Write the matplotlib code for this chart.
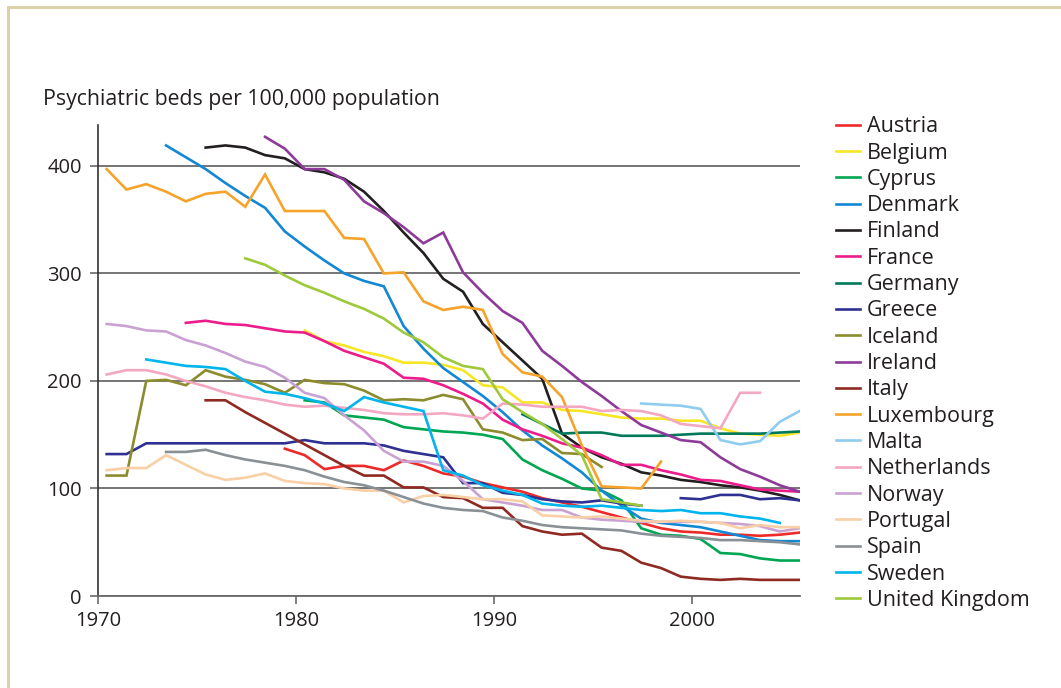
import numpy as np
import matplotlib
matplotlib.use("Agg")
import matplotlib.pyplot as plt
from matplotlib.patches import Rectangle

plt.rcParams['font.family'] = ['Open Sans', 'DejaVu Sans']

# Data: psychiatric beds per 100,000 population, 1970-2005 (nan = no data)
nan = np.nan
years = np.arange(1970, 2006)

austria = [nan]*9 + [137, 131, 118, 121, 121, 117, 126, 121, 114, 111, 105, 101, 97, 91, 87, 83, 78, 73, 68, 63, 60, 59, 57, 57, 56, 57, 59]
belgium = [nan]*10 + [247, 237, 233, 227, 223, 217, 217, 215, 210, 196, 194, 180, 180, 173, 172, 169, 166, 165, 165, 163, 163, 156, 151, 150, 149, 152]
cyprus = [nan]*10 + [182, 180, 168, 166, 164, 157, 155, 153, 152, 150, 146, 127, 117, 109, 100, 98, 89, 63, 57, 56, 53, 40, 39, 35, 33, 33]
denmark = [nan]*3 + [419, 408, 397, 384, 372, 361, 339, 325, 312, 300, 293, 288, 251, 230, 212, 199, 186, 171, 154, 140, 128, 115, 98, 84, 72, 68, 66, 64, 60, 56, 52, 51, 51]
finland = [nan]*5 + [417, 419, 417, 410, 407, 397, 394, 388, 376, 358, 338, 319, 295, 283, 253, 236, 219, 202, 151, 138, 129, 123, 115, 112, 108, 106, 103, 101, 98, 94, 89]
france = [nan]*4 + [254, 256, 253, 252, 249, 246, 245, 237, 228, 222, 216, 203, 202, 196, 188, 179, 164, 155, 149, 142, 138, 131, 122, 122, 117, 113, 108, 107, 103, 99, 98, 97]
germany = [nan]*21 + [169, 160, 151, 152, 152, 149, 149, 149, 150, 151, 151, 151, 151, 152, 153]
greece = [132, 132, 142, 142, 142, 142, 142, 142, 142, 142, 145, 142, 142, 142, 140, 135, 132, 129, 105, 105, 96, 94, 90, 88, 87, 89, 86, 84, nan, 91, 90, 94, 94, 90, 91, 89]
iceland = [112, 112, 200, 201, 196, 210, 204, 201, 197, 189, 201, 198, 197, 191, 182, 183, 182, 187, 183, 155, 152, 145, 146, 133, 132, 120] + [nan]*10
ireland = [nan]*8 + [427, 416, 397, 397, 387, 367, 356, 343, 328, 338, 301, 282, 265, 254, 228, 214, 199, 186, 172, 159, 152, 145, 143, 129, 118, 111, 103, 97]
italy = [nan]*5 + [182, 182, 171, 161, 151, 141, 131, 121, 112, 112, 101, 101, 92, 91, 82, 82, 65, 60, 57, 58, 45, 42, 31, 26, 18, 16, 15, 16, 15, 15, 15]
luxembourg = [397, 378, 383, 376, 367, 374, 376, 362, 392, 358, 358, 358, 333, 332, 300, 301, 274, 266, 269, 266, 225, 208, 204, 185, 140, 102, 101, 100, 125] + [nan]*7
malta = [nan]*27 + [179, 178, 177, 174, 145, 141, 144, 162, 172]
netherlands = [206, 210, 210, 206, 200, 195, 189, 185, 182, 178, 176, 177, 175, 173, 170, 169, 169, 170, 168, 165, 179, 178, 176, 176, 176, 172, 173, 172, 168, 160, 158, 156, 189, 189, nan, nan]
norway = [253, 251, 247, 246, 238, 233, 226, 218, 213, 203, 189, 184, 168, 154, 135, 125, 125, 121, 107, 90, 87, 84, 80, 80, 73, 71, 70, 69, 69, 69, 69, 68, 67, 65, 60, 63]
portugal = [117, 119, 119, 131, 122, 113, 108, 110, 114, 107, 105, 104, 100, 98, 98, 87, 93, 94, 92, 90, 90, 88, 75, 74, 73, 74, 72, 70, 69, 70, 69, 68, 63, 66, 64, 64]
spain = [nan]*3 + [134, 134, 136, 131, 127, 124, 121, 117, 111, 106, 103, 98, 92, 86, 82, 80, 79, 73, 70, 66, 64, 63, 62, 61, 58, 56, 55, 54, 52, 52, 51, 50, 48]
sweden = [nan]*2 + [220, 217, 214, 213, 211, 200, 190, 188, 184, 179, 172, 185, 180, 176, 172, 117, 112, 103, 98, 94, 86, 84, 83, 84, 82, 80, 79, 80, 77, 77, 74, 72, 68, nan]
uk = [nan]*7 + [314, 308, 298, 289, 282, 274, 267, 258, 245, 236, 222, 214, 211, 183, 171, 160, 146, 131, 90, 87, 84] + [nan]*8

countries = ["Austria", "Belgium", "Cyprus", "Denmark", "Finland", "France", "Germany",
             "Greece", "Iceland", "Ireland", "Italy", "Luxembourg", "Malta", "Netherlands",
             "Norway", "Portugal", "Spain", "Sweden", "United Kingdom"]
series = [austria, belgium, cyprus, denmark, finland, france, germany, greece, iceland,
          ireland, italy, luxembourg, malta, netherlands, norway, portugal, spain, sweden, uk]
colors = ["#ed2a2a", "#f8e626", "#00a651", "#1288d4", "#231f20", "#ec1c8c", "#00785a",
          "#2e3192", "#8c8b2e", "#8e3a9a", "#8f2a22", "#f5a32a", "#8fcdf0", "#f4a7c2",
          "#c9a2d3", "#f9cfa6", "#8a9196", "#00b4ec", "#9dc93b"]

xticks = [1970, 1980, 1990, 2000]
yticks = [0, 100, 200, 300, 400]

# points sit a little right of the year tick, as in the original
offset = 0.42

fig = plt.figure(figsize=(10.61, 6.88), dpi=100)
ax = fig.add_axes([0.0927, 0.1337, 0.6613, 0.6846])

for name, vals, col in zip(countries, series, colors):
    ax.plot(years + offset, vals, color=col, lw=1.9, label=name, solid_joinstyle='miter')

ax.set_xlim(1970, 2005.44)
ax.set_ylim(0, 438)
ax.set_xticks(xticks)
ax.set_yticks(yticks)
ax.yaxis.grid(True, color="#6a6a6a", lw=1.3)
ax.set_axisbelow(True)
for s in ["top", "right"]:
    ax.spines[s].set_visible(False)
ax.spines["left"].set_color("#333333")
ax.spines["bottom"].set_color("#6a6a6a")
ax.spines["left"].set_linewidth(1.2)
ax.spines["bottom"].set_linewidth(1.3)
ax.tick_params(axis="y", length=6, width=1.2, color="#6a6a6a", pad=6, labelsize=14.5, labelcolor="#231f20")
ax.tick_params(axis="x", length=6, width=1.2, color="#6a6a6a", pad=5, labelsize=14.5, labelcolor="#231f20")

fig.text(0.0405, 0.856, "Psychiatric beds per 100,000 population", fontsize=15.3,
         color="#231f20", va="center", ha="left")

leg = ax.legend(loc="upper left", bbox_to_anchor=(0.7798, 0.8436), bbox_transform=fig.transFigure,
                frameon=False, fontsize=15.5, handlelength=1.12, handletextpad=0.33,
                labelspacing=0.247, borderaxespad=0)
for t in leg.get_texts():
    t.set_color("#231f20")

# beige outer frame
fig.patches.append(Rectangle((8/1061, -0.2), 1.2, 1.2 - 7/688, transform=fig.transFigure,
                             fill=False, edgecolor="#dcd2aa", lw=2.2))

fig.savefig("out.png", dpi=100)
